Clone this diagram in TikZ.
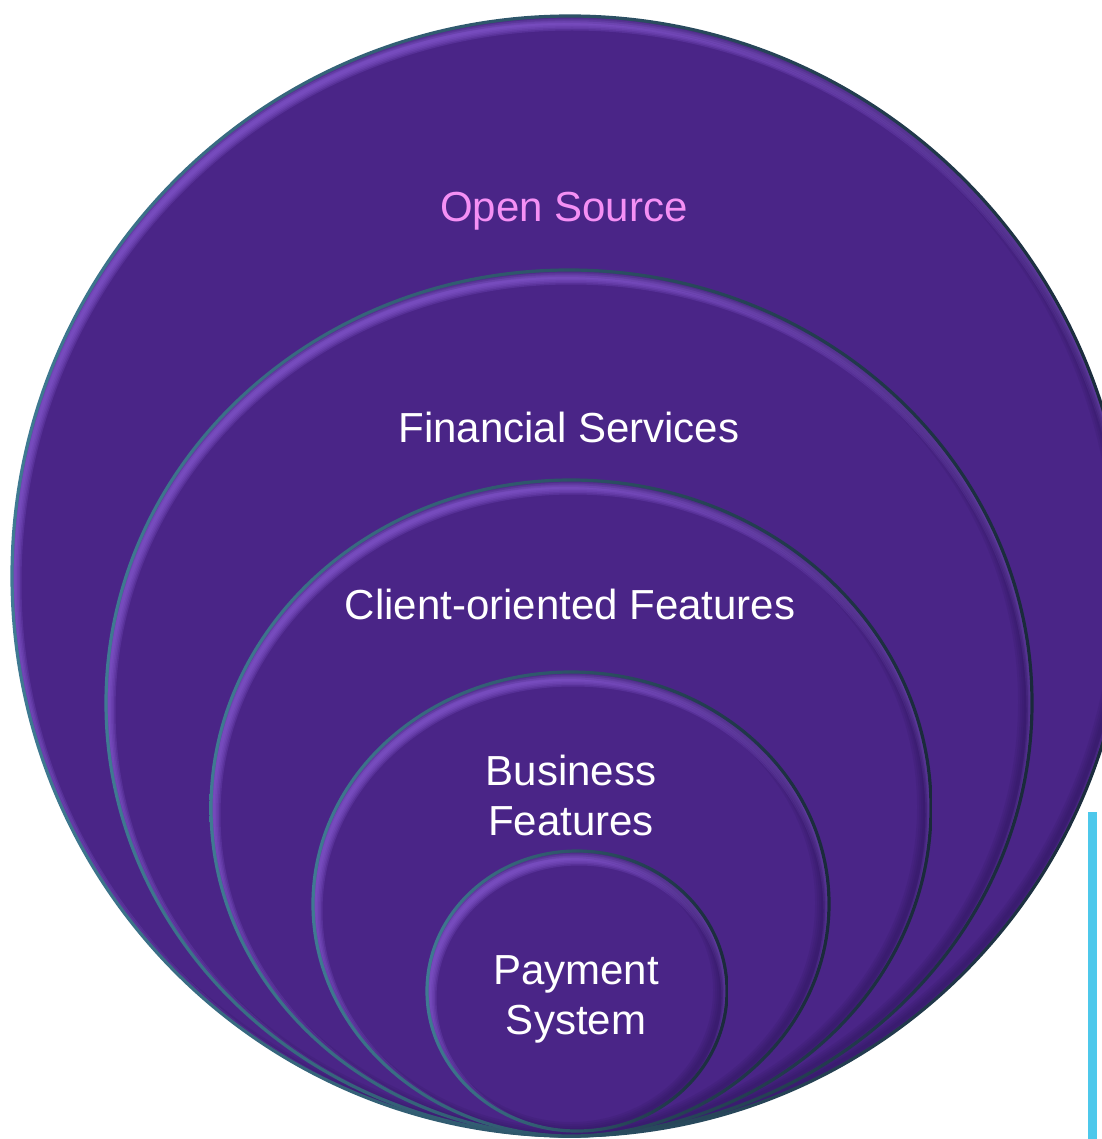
\documentclass[tikz,border=0pt]{standalone}
\usepackage{fontspec}
\setmainfont{Liberation Sans}
\definecolor{basefill}{HTML}{4A2587}
\definecolor{hilite}{HTML}{8C5ED8}
\definecolor{shadowc}{HTML}{22104A}
\definecolor{edgeL}{HTML}{3F7A92}
\definecolor{edgeR}{HTML}{1A2A3A}
\definecolor{pinktext}{HTML}{F590F5}
\definecolor{cyanbar}{HTML}{4DC8EB}
\newcommand\bevelring[4]{%
  \begin{scope}
    \clip (#1,#2) ellipse [x radius=#3pt, y radius=#4pt];
    \fill[basefill] (#1,#2) ellipse [x radius=#3pt, y radius=#4pt];
    \foreach \w in {3,6,9,12,15}{
      \draw[hilite, line width=\w pt, opacity=0.21] (#1+2,#2+7) ellipse [x radius=#3pt, y radius=#4pt];
    }
    \foreach \w in {4,8,12,16}{
      \draw[shadowc, line width=\w pt, opacity=0.10] (#1-6,#2-1) ellipse [x radius=#3pt, y radius=#4pt];
    }
  \end{scope}
  \shade[left color=edgeL, right color=edgeR, even odd rule]
    (#1,#2) ellipse [x radius=#3pt+1.6pt, y radius=#4pt+1.6pt]
    (#1,#2) ellipse [x radius=#3pt-1.6pt, y radius=#4pt-1.6pt];
}
\begin{document}
\begin{tikzpicture}[x=1pt, y=-1pt,
  lbl/.style={font=\fontsize{42}{50}\selectfont, text=white, align=center, inner sep=0pt}]
\useasboundingbox (0,0) rectangle (1101,1139);
\bevelring{570}{576}{558}{560}
\bevelring{569}{703}{463}{433}
\bevelring{571}{808}{360}{328}
\bevelring{571}{904}{258}{232}
\bevelring{577}{991}{150}{140}
\node[lbl, anchor=base, text=pinktext] (open) at (564,222) {Open Source};
\node[lbl, anchor=base] (fin) at (569,442) {Financial Services};
\node[lbl, anchor=base] (client) at (570,619) {Client-oriented Features};
\node[lbl] (biz) at (571,795) {Business\\Features};
\node[lbl] (pay) at (576,999) {Payment\\System};
\fill[cyanbar] (1088,812) rectangle (1097,1139);
\end{tikzpicture}
\end{document}
